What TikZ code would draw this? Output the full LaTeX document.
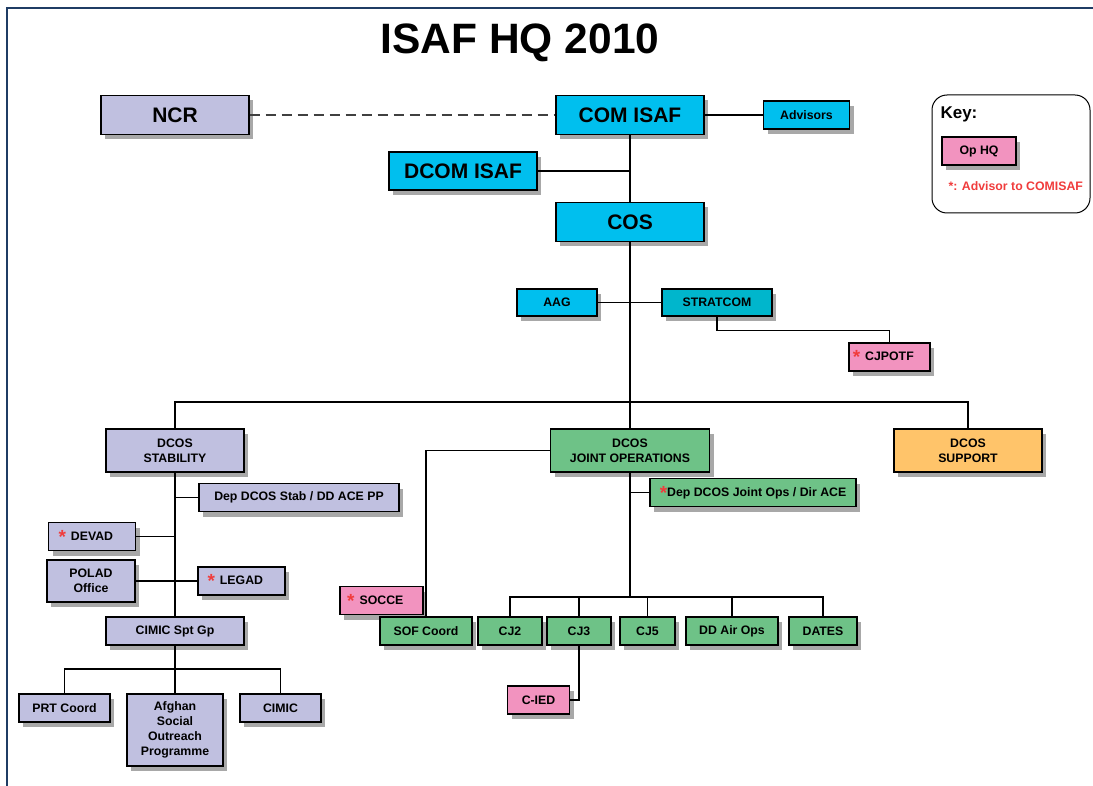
\documentclass[tikz,border=0pt]{standalone}
\usepackage{fontspec}
\setmainfont{Liberation Sans}
\usetikzlibrary{shadows}

\definecolor{framenavy}{HTML}{1F3C64}
\definecolor{lavender}{HTML}{C0C0E0}
\definecolor{comcyan}{HTML}{00BFEE}
\definecolor{stratteal}{HTML}{00B6CC}
\definecolor{ophqpink}{HTML}{F293BF}
\definecolor{jopsgreen}{HTML}{6EC287}
\definecolor{supporange}{HTML}{FFC46A}
\definecolor{shadowgrey}{HTML}{A8A8A8}
\definecolor{starred}{HTML}{F03C3C}

\newcommand\smallbf{\fontsize{12.3}{14.8}\selectfont\bfseries}
\newcommand\bigbf{\fontsize{21}{25}\selectfont\bfseries}
\newcommand\redstar{\textcolor{starred}{\fontsize{19}{19}\selectfont\raisebox{-3pt}{*}}}
\newcommand\starin{\llap{\redstar\hspace{5pt}}}

\begin{document}
\begin{tikzpicture}[x=1pt, y=-1pt,
    unit/.style={draw, line width=1.4pt, inner sep=0pt, align=center, font=\smallbf, minimum height=28pt,
      drop shadow={shadow xshift=4pt, shadow yshift=-5pt, fill=shadowgrey, opacity=1}},
    big/.style={unit, font=\bigbf, minimum height=39pt},
    link/.style={line width=1.1pt},
    spine/.style={line width=2pt}]
    \useasboundingbox (0,0) rectangle (1093,786);
    \draw[framenavy, line width=2.5pt] (7,786) -- (7,8) -- (1093,8);

    \node[font=\fontsize{42.5}{50}\selectfont\bfseries] (title) at (520,43) {ISAF HQ 2010};

    \node[big, fill=lavender, minimum width=148pt] (NCR) at (175,115) {NCR};
    \node[big, fill=comcyan, minimum width=148pt] (COMISAF) at (630,115) {COM ISAF};
    \node[unit, fill=comcyan, minimum width=86pt] (Advisors) at (806.5,115) {Advisors};
    \node[big, fill=comcyan, minimum width=148pt, minimum height=38pt] (DCOMISAF) at (463,171) {DCOM ISAF};
    \node[big, fill=comcyan, minimum width=148pt] (COS) at (630,222) {COS};
    \node[unit, fill=comcyan, minimum width=80pt, minimum height=27pt] (AAG) at (557,302.5) {AAG};
    \node[unit, fill=stratteal, minimum width=110pt, minimum height=27pt] (STRATCOM) at (717,302.5) {STRATCOM};
    \node[unit, fill=ophqpink, minimum width=81pt] (CJPOTF) at (889.5,357) {\starin CJPOTF};

    \node[unit, fill=lavender, minimum width=138pt, minimum height=43pt] (DCOSSTAB) at (175,450.5) {DCOS\\STABILITY};
    \node[unit, fill=jopsgreen, minimum width=159pt, minimum height=43pt] (DCOSJO) at (630,450.5) {DCOS\\JOINT OPERATIONS};
    \node[unit, fill=supporange, minimum width=148pt, minimum height=43pt] (DCOSSUP) at (968,450.5) {DCOS\\SUPPORT};

    \node[unit, fill=lavender, minimum width=200pt] (DepStab) at (299,497.5) {Dep DCOS Stab / DD ACE PP};
    \node[unit, fill=jopsgreen, minimum width=206pt] (DepJO) at (753,492.5) {\redstar Dep DCOS Joint Ops / Dir ACE};
    \node[unit, fill=lavender, minimum width=87pt] (DEVAD) at (92,536.5) {\starin DEVAD};
    \node[unit, fill=lavender, minimum width=88pt, minimum height=42pt] (POLAD) at (91,581) {POLAD\\Office};
    \node[unit, fill=lavender, minimum width=87pt] (LEGAD) at (241.5,581) {\starin LEGAD};
    \node[unit, fill=ophqpink, minimum width=83pt] (SOCCE) at (381.5,600.5) {\starin SOCCE};
    \node[unit, fill=lavender, minimum width=138pt] (CIMICSpt) at (175,631) {CIMIC Spt Gp};

    \node[unit, fill=jopsgreen, minimum width=92pt] (SOFCoord) at (426,631) {SOF Coord};
    \node[unit, fill=jopsgreen, minimum width=64pt] (CJ2) at (510,631) {CJ2};
    \node[unit, fill=jopsgreen, minimum width=64pt] (CJ3) at (579,631) {CJ3};
    \node[unit, fill=jopsgreen, minimum width=55pt] (CJ5) at (647.5,631) {CJ5};
    \node[unit, fill=jopsgreen, minimum width=92pt] (DDAirOps) at (732,631) {DD Air Ops};
    \node[unit, fill=jopsgreen, minimum width=68pt] (DATES) at (823,631) {DATES};
    \node[unit, fill=ophqpink, minimum width=62pt] (CIED) at (538.5,700) {C-IED};

    \node[unit, fill=lavender, minimum width=91pt] (PRTCoord) at (64.5,708) {PRT Coord};
    \node[unit, fill=lavender, minimum width=96pt, minimum height=72pt] (Afghan) at (175,730) {Afghan\\Social\\Outreach\\Programme};
    \node[unit, fill=lavender, minimum width=81pt] (CIMIC) at (280.5,708) {CIMIC};

    \node[draw, line width=1pt, rounded corners=15pt, minimum width=158pt, minimum height=118pt] (KeyBox) at (1011,154) {};
    \node[anchor=base west, font=\fontsize{17}{20}\selectfont\bfseries] (KeyTitle) at (937,118.5) {Key:};
    \node[unit, fill=ophqpink, minimum width=74pt] (OpHQ) at (979,151) {Op HQ};
    \node[anchor=base west, font=\smallbf, text=starred] (KeyStar) at (945,190.5) {*: Advisor to COMISAF};

    \draw[link, dashed, dash pattern=on 10pt off 6pt, black!75] (NCR) -- (COMISAF);
    \draw[link] (COMISAF) -- (Advisors);
    \draw[spine] (COMISAF) -- (COS);
    \draw[link] (DCOMISAF.east) -- (DCOMISAF.east -| COS);
    \draw[spine] (COS) -- (DCOSJO);
    \draw[link] (AAG) -- (STRATCOM);
    \draw[link] (STRATCOM.south) -- ++(0,14) -| (CJPOTF.north);
    \coordinate (topbus) at (630,402);
    \draw[link] (DCOSSTAB) |- (topbus) -| (DCOSSUP);

    \draw[link] (DCOSSTAB) -- (CIMICSpt);
    \draw[link] (DepStab.west) -- (DepStab.west -| DCOSSTAB);
    \draw[link] (DEVAD.east) -- (DEVAD.east -| DCOSSTAB);
    \draw[link] (POLAD) -- (LEGAD);
    \coordinate (cimicbus) at (175,669);
    \draw[link] (CIMICSpt) -- (Afghan);
    \draw[link] (PRTCoord) |- (cimicbus) -| (CIMIC);

    \draw[link] (DCOSJO.west) -| (SOFCoord);
    \coordinate (jobus) at (630,597);
    \draw[spine] (DCOSJO) -- (jobus);
    \draw[link] (DepJO.west) -- (DepJO.west -| DCOSJO);
    \draw[link] (CJ2) |- (jobus) -| (DATES);
    \draw[spine] (jobus) -- (jobus -| DDAirOps);
    \foreach \n in {CJ3, CJ5, DDAirOps}
        \draw[link] (\n) -- (\n |- jobus);
    \draw[link] (CJ3) |- (CIED);
\end{tikzpicture}
\end{document}
